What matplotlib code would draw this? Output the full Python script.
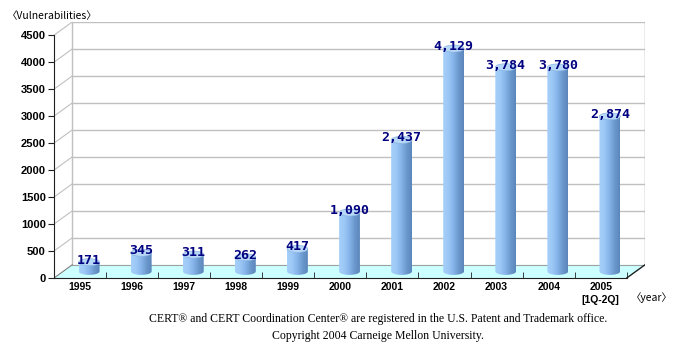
import numpy as np
import matplotlib
matplotlib.use("Agg")
import matplotlib.pyplot as plt
from matplotlib.patches import Polygon, Ellipse, PathPatch
from matplotlib.path import Path
from matplotlib.colors import LinearSegmentedColormap

# data
years = ["1995", "1996", "1997", "1998", "1999", "2000",
         "2001", "2002", "2003", "2004", "2005"]
vulns = [171, 345, 311, 262, 417, 1090, 2437, 4129, 3784, 3780, 2874]
y_ticks = [0, 500, 1000, 1500, 2000, 2500, 3000, 3500, 4000, 4500]

# pseudo-3d depth offset (x in category units, y in value units)
DX, DY = 0.35, 245
YMAX = 4500
n = len(years)

fig = plt.figure(figsize=(6.73, 3.45), dpi=100)
W, H = 673, 345
# front axis: x 54 px -> 645 px incl. depth, y 278 px (0) -> 22 px (top of back wall)
ax = fig.add_axes([54 / W, (H - 278) / H, (645 - 54) / W, (278 - 22) / H])
ax.set_xlim(-0.5, n - 0.5 + DX)
ax.set_ylim(0, YMAX + DY)
ax.patch.set_visible(False)

grid_c = "#c0c0c0"
# back wall
ax.add_patch(Polygon([(-0.5 + DX, DY), (n - 0.5 + DX, DY), (n - 0.5 + DX, YMAX + DY),
                      (-0.5 + DX, YMAX + DY)], closed=True, fc="white", ec="none", zorder=0))
for v in y_ticks[1:]:
    ax.plot([-0.5 + DX, n - 0.5 + DX], [v + DY, v + DY], color=grid_c, lw=1, zorder=1)
    ax.plot([-0.5, -0.5 + DX], [v, v + DY], color=grid_c, lw=0.8, zorder=1)
ax.plot([-0.5 + DX, -0.5 + DX], [DY, YMAX + DY], color=grid_c, lw=1, zorder=1)
ax.plot([n - 0.5 + DX, n - 0.5 + DX], [DY, YMAX + DY], color="#a0a0a0", lw=1, zorder=1)

# floor
ax.add_patch(Polygon([(-0.5, 0), (n - 0.5, 0), (n - 0.5 + DX, DY), (-0.5 + DX, DY)],
                     closed=True, fc="#ccffff", ec="none", zorder=1))
ax.plot([-0.5 + DX, n - 0.5 + DX], [DY, DY], color="#a0a0a0", lw=0.8, zorder=1)
ax.plot([-0.5, -0.5 + DX], [0, DY], color="#808080", lw=0.8, zorder=1)
ax.plot([n - 0.5, n - 0.5 + DX], [0, DY], color="#202020", lw=1, zorder=3)

# cylinders
cmap = LinearSegmentedColormap.from_list(
    "cyl", ["#a6d0fa", "#9cc8f6", "#86b4ea", "#6c98cc", "#5a86bc"])
bw = 0.40
eh = 130
grad = np.linspace(0, 1, 64).reshape(1, -1)
for i, v in enumerate(vulns):
    cx = i + DX / 2
    y0 = DY / 2
    y1 = v + DY / 2
    x0, x1 = cx - bw / 2, cx + bw / 2
    # body outline: straight top, rounded bottom
    t = np.linspace(np.pi, 2 * np.pi, 30)
    bottom = [(cx + bw / 2 * np.cos(a), y0 + eh / 2 * np.sin(a)) for a in t]
    verts = [(x0, y1)] + bottom + [(x1, y1), (x0, y1)]
    codes = [Path.MOVETO] + [Path.LINETO] * (len(verts) - 2) + [Path.CLOSEPOLY]
    body = PathPatch(Path(verts, codes), fc="none", ec="none", zorder=4)
    ax.add_patch(body)
    im = ax.imshow(grad, cmap=cmap, aspect="auto", extent=[x0, x1, y0 - eh, y1],
                   zorder=4, interpolation="bilinear")
    im.set_clip_path(body)
    ax.add_patch(Ellipse((cx, y1), bw, eh, fc="#b8d8f8", ec="#8ab4e0", lw=0.5, zorder=5))
    ax.text(cx, y1 + 40, f"{v:,}", ha="center", va="center", fontsize=9.5,
            family="DejaVu Sans Mono", fontweight="bold", color="#000080", zorder=6)

# axes / ticks
for s in ["top", "right"]:
    ax.spines[s].set_visible(False)
ax.spines["left"].set_bounds(0, YMAX)
ax.spines["bottom"].set_bounds(-0.5, n - 0.5)
ax.spines["left"].set_color("#202020")
ax.spines["bottom"].set_color("#202020")
ax.spines["left"].set_zorder(7)
ax.spines["bottom"].set_zorder(7)
ax.set_yticks(y_ticks)
ax.set_yticklabels([str(v) for v in y_ticks], fontsize=8, fontweight="bold",
                   family="Liberation Sans")
ax.set_xticks(range(n))
ax.set_xticklabels(years, fontsize=7.5, fontweight="bold", family="Liberation Sans")
ax.tick_params(axis="x", length=0, pad=3)
ax.set_xticks(np.arange(-0.5, n - 0.4, 1), minor=True)
ax.tick_params(axis="x", which="minor", length=4, direction="in", color="#202020")
ax.tick_params(axis="y", length=4, direction="out", color="#202020", pad=2)

fig.text(7 / W, 1 - 16 / H, "\u3008Vulnerabilities\u3009", fontsize=7.5,
         family=["Noto Sans CJK KR", "DejaVu Sans"], va="center", ha="left")
ax.text(n - 1, -400, "[1Q-2Q]", fontsize=7.5, fontweight="bold",
        family="Liberation Sans", ha="center", va="center")
fig.text(652 / W, 1 - 298 / H, "\u3008year\u3009", fontsize=7.5,
         family=["Noto Sans CJK KR", "DejaVu Sans"], va="center", ha="center")

fig.text(378 / W, 1 - 319 / H,
         "CERT\u00ae and CERT Coordination Center\u00ae are registered in the U.S. Patent and Trademark office.",
         fontsize=8.5, family="Liberation Serif", ha="center", va="center")
fig.text(378 / W, 1 - 336 / H, "Copyright 2004 Carneige Mellon University.",
         fontsize=8.5, family="Liberation Serif", ha="center", va="center")

fig.savefig("out.png", dpi=100)
